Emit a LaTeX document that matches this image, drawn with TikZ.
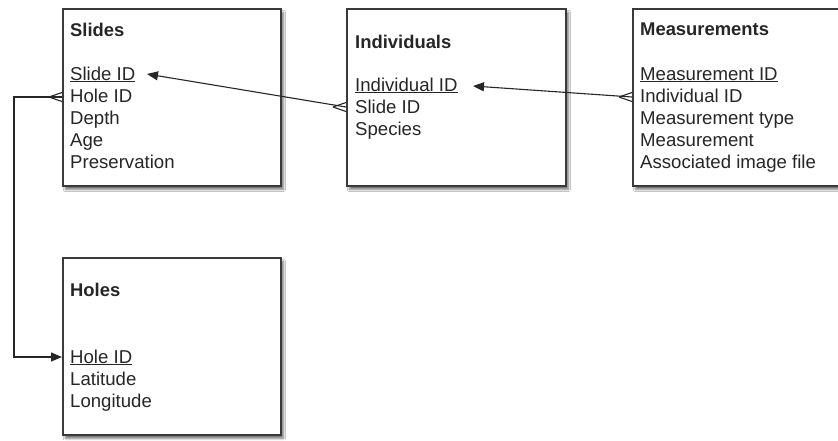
\documentclass[tikz,border=0pt]{standalone}
\usepackage{fontspec}
\setmainfont{Liberation Sans}
\usetikzlibrary{arrows.meta,shadows.blur}
\definecolor{edge}{HTML}{3A3A3A}
\definecolor{ink}{HTML}{262626}
\tikzset{
  tbl/.style={draw=edge, line width=1.8pt, fill=white, anchor=north west, inner sep=0pt,
    blur shadow={shadow xshift=2.5pt, shadow yshift=-3.5pt, shadow blur steps=6, shadow opacity=55}},
  txt/.style={anchor=base west, inner sep=0pt, font=\fontsize{18.6}{21}\selectfont, text=ink},
  ttl/.style={txt, font=\fontsize{18.4}{21}\selectfont\bfseries},
  conn/.style={draw=black!85, line width=1.1pt},
  head/.style={conn, -{Triangle[length=11pt,width=9pt]}},
}
\newcommand\keytext[1]{\underline{#1}}
\newcommand\crowfoot[1]{%
  \draw[conn] ([xshift=-13pt]#1) -- ([yshift=4.5pt]#1)
              ([xshift=-13pt]#1) -- ([yshift=-4.5pt]#1);}
\begin{document}
\begin{tikzpicture}[x=1pt,y=-1pt]
\useasboundingbox (0,0) rectangle (838,440);
\fill[white] (0,0) rectangle (838,440);

% boxes
\node[tbl, minimum width=218pt, minimum height=177pt] (slides) at (62,8) {};
\node[tbl, minimum width=219pt, minimum height=177pt] (ind) at (346,8) {};
\node[tbl, minimum width=220pt, minimum height=177pt] (meas) at (632,8) {};
\node[tbl, minimum width=218pt, minimum height=177pt] (holes) at (62,257) {};

% Slides
\node[ttl] (s-t) at (70,36) {Slides};
\node[txt] (s-id) at (70,80) {\keytext{Slide ID}};
\node[txt] (s-hole) at (70,102) {Hole ID};
\node[txt] (s-depth) at (70,124) {Depth};
\node[txt] (s-age) at (70,146) {Age};
\node[txt] (s-pres) at (70,168) {Preservation};

% Individuals
\node[ttl] (i-t) at (355,48) {Individuals};
\node[txt] (i-id) at (355,91) {\keytext{Individual ID}};
\node[txt] (i-slide) at (355,113) {Slide ID};
\node[txt] (i-sp) at (355,135) {Species};

% Measurements
\node[ttl] (m-t) at (640,35) {Measurements};
\node[txt] (m-id) at (640,80) {\keytext{Measurement ID}};
\node[txt] (m-ind) at (640,102) {Individual ID};
\node[txt] (m-type) at (640,124) {Measurement type};
\node[txt] (m-m) at (640,146) {Measurement};
\node[txt] (m-file) at (640,168) {Associated image file};

% Holes
\node[ttl] (h-t) at (70,296) {Holes};
\node[txt] (h-id) at (70,363) {\keytext{Hole ID}};
\node[txt] (h-lat) at (70,385) {Latitude};
\node[txt] (h-lon) at (70,407) {Longitude};

% connector anchors
\coordinate (i-fk) at (ind.west |- 0,107);
\coordinate (s-pk) at (147,74);
\coordinate (m-fk) at (meas.west |- 0,97);
\coordinate (i-pk) at (473,86);
\coordinate (s-fk) at (slides.west |- 0,97);
\coordinate (bend) at (14,0);
\coordinate (h-pk) at (holes.west |- 0,357);

\draw[head] (i-fk) -- (s-pk);
\crowfoot{i-fk}
\draw[head] (m-fk) -- (i-pk);
\crowfoot{m-fk}
\draw[head] (s-fk) -- (s-fk -| bend) -- (bend |- h-pk) -- (h-pk);
\crowfoot{s-fk}
\end{tikzpicture}
\end{document}
